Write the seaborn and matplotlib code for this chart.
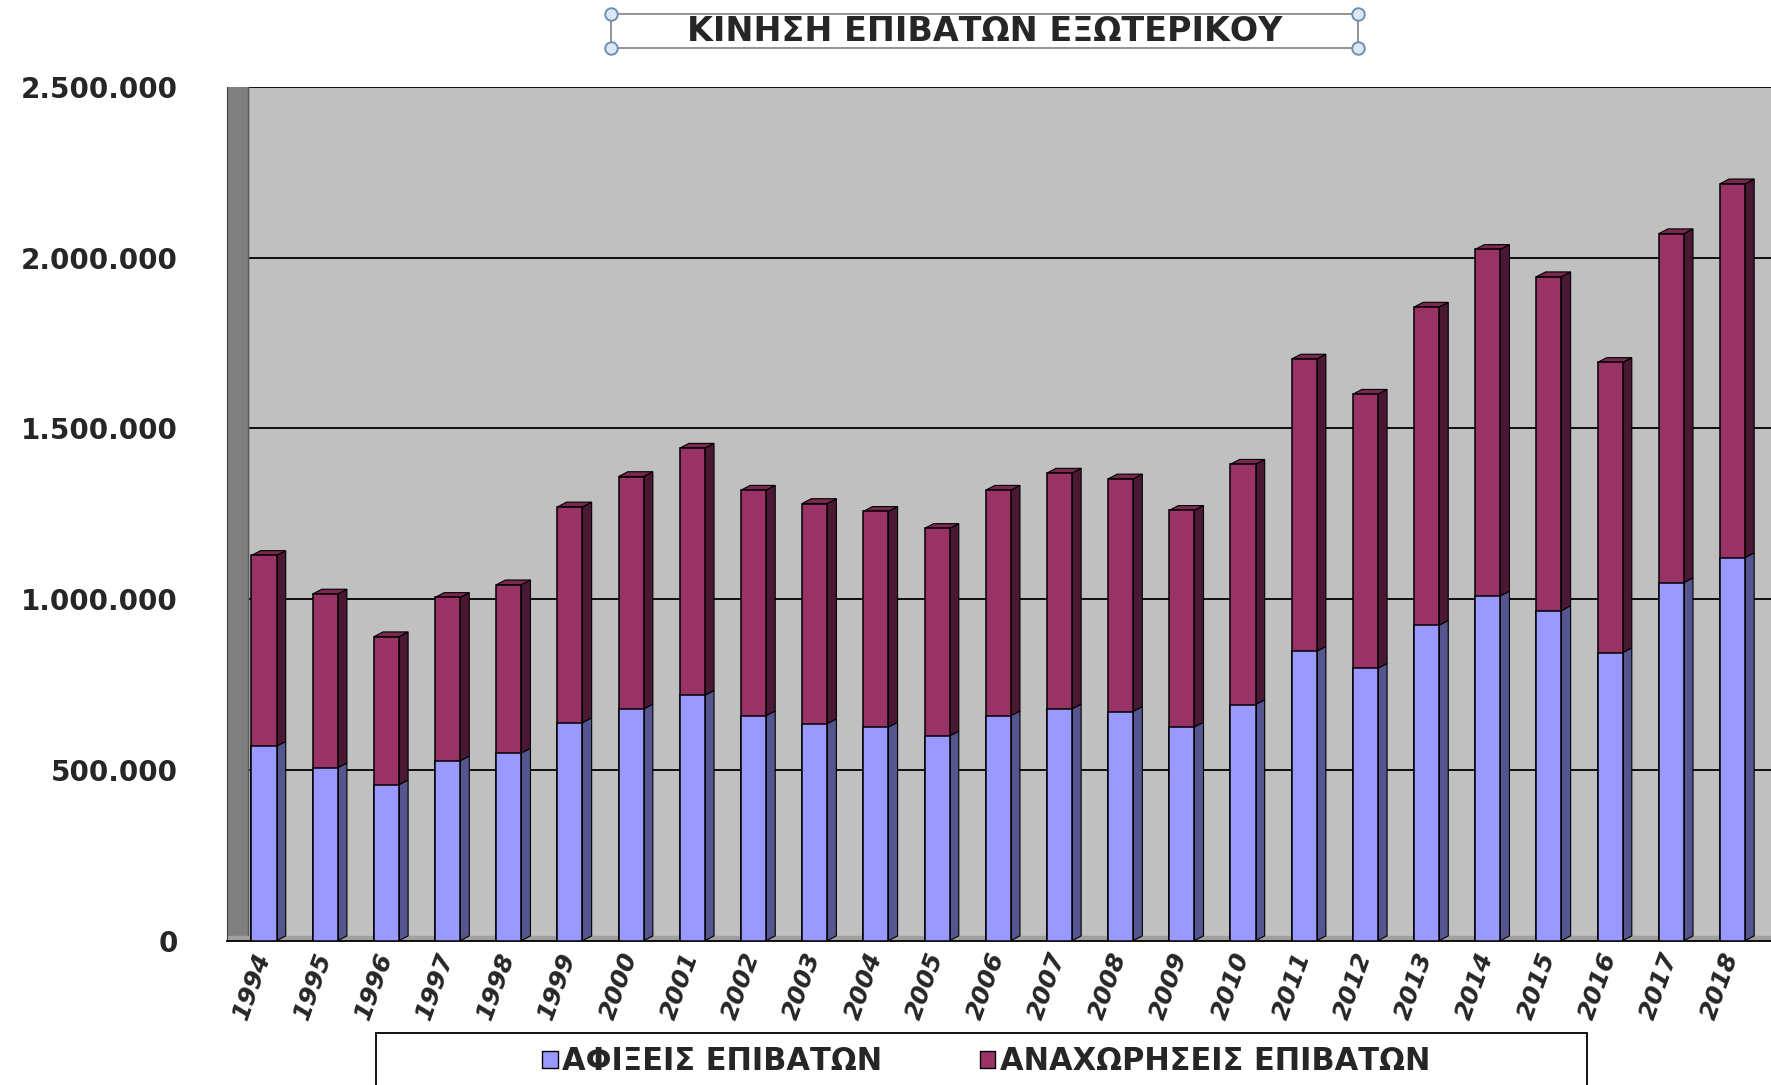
import numpy as np
import pandas as pd
import seaborn as sns
import matplotlib.pyplot as plt
from matplotlib.lines import Line2D
from matplotlib.patches import Patch, Rectangle
from matplotlib.ticker import FuncFormatter, FixedLocator

# passenger data
years = [str(y) for y in range(1994, 2019)]
arrivals = [569000, 506000, 456000, 526000, 549000, 638000, 678000, 718000, 658000,
            635000, 625000, 599000, 658000, 678000, 671000, 625000, 691000, 847000,
            797000, 923000, 1009000, 966000, 843000, 1048000, 1121000]
departures = [559000, 509000, 434000, 479000, 493000, 632000, 681000, 724000, 661000,
              645000, 632000, 608000, 661000, 691000, 681000, 635000, 704000, 856000,
              803000, 932000, 1015000, 978000, 850000, 1022000, 1095000]

title = 'ΚΙΝΗΣΗ ΕΠΙΒΑΤΩΝ ΕΞΩΤΕΡΙΚΟΥ'
labels = ['ΑΦΙΞΕΙΣ ΕΠΙΒΑΤΩΝ', 'ΑΝΑΧΩΡΗΣΕΙΣ ΕΠΙΒΑΤΩΝ']

df = pd.DataFrame({'year': years, 'arr': arrivals, 'dep': departures})
df['total'] = df['arr'] + df['dep']

blue, blue_side = '#9999ff', '#55558f'
purple, purple_side, purple_top = '#993366', '#4a1832', '#7a2850'

sns.set_style('white')
plt.rcParams['font.family'] = ['DejaVu Sans']

fig = plt.figure(figsize=(17.71, 10.85), dpi=100)
ax = fig.add_axes([0.128, 0.133, 0.872, 0.787])
ax.set_facecolor('#c0c0c0')

w, d, dz = 0.41, 0.15, 14000

# stacked bars: totals underneath, arrivals on top of them
sns.barplot(data=df, x='year', y='total', color=purple, width=w, saturation=1,
            edgecolor='black', linewidth=1.1, ax=ax, zorder=3)
sns.barplot(data=df, x='year', y='arr', color=blue, width=w, saturation=1,
            edgecolor='black', linewidth=1.1, ax=ax, zorder=4)

# fake 3d side and top faces
for i, (a, t) in enumerate(zip(df['arr'], df['total'])):
    xr = i + w / 2
    ax.fill([xr, xr + d, xr + d, xr], [a, a + dz, t + dz, t],
            color=purple_side, ec='black', lw=0.8, zorder=2)
    ax.fill([xr, xr + d, xr + d, xr], [0, dz, a + dz, a],
            color=blue_side, ec='black', lw=0.8, zorder=2)
    ax.fill([i - w / 2, i - w / 2 + d, xr + d, xr], [t, t + dz, t + dz, t],
            color=purple_top, ec='black', lw=0.8, zorder=2)

ax.set_xlim(-0.61, 24.63)
ax.set_ylim(0, 2500000)

# side wall and floor
ax.axvspan(-0.61, -0.26, color='#808080', zorder=1)
ax.axvline(-0.26, color='#5a5a5a', lw=1, zorder=1)
ax.axhspan(0, dz, color='#a0a0a0', zorder=1)

ax.yaxis.set_major_locator(FixedLocator(np.arange(0, 2500001, 500000)))
ax.yaxis.set_major_formatter(FuncFormatter(lambda v, p: f'{v:,.0f}'.replace(',', '.')))
ax.grid(axis='y', color='black', lw=1.3, zorder=0)
ax.set_axisbelow(True)

for s in ['top', 'right']:
    ax.spines[s].set_visible(False)
ax.spines['left'].set_color('#404040')
ax.spines['bottom'].set_color('black')
ax.spines['bottom'].set_linewidth(1.3)

ax.tick_params(axis='y', length=7, width=1.2, color='black', labelsize=20, pad=28)
for lb in ax.get_yticklabels():
    lb.set_fontweight('bold')

ax.set_xticks(np.arange(len(years)) + 0.5, minor=True)
ax.tick_params(axis='x', which='minor', length=9, width=1.2, color='black')
ax.tick_params(axis='x', which='major', length=0, pad=6)
ax.set_xticks(np.arange(len(years)) - 0.2)
ax.set_xticklabels(years, rotation=70, ha='center', va='top',
                   fontsize=18, fontweight='bold', style='italic')
ax.set_xlabel('')
ax.set_ylabel('')

# title with its selection box and handles
x0, x1, y0, y1 = 0.345, 0.767, 0.956, 0.9875
fig.add_artist(Rectangle((x0, y0), x1 - x0, y1 - y0, transform=fig.transFigure,
                         fc='white', ec='#8a8a8a', lw=1.3))
fig.text((x0 + x1) / 2, (y0 + y1) / 2 - 0.001, title, ha='center', va='center',
         fontsize=24, fontweight='bold')
for cx in (x0, x1):
    for cy in (y0, y1):
        fig.add_artist(Line2D([cx], [cy], marker='o', ms=9, mfc='#dbe9f5',
                              mec='#6b8fb5', mew=1.4, transform=fig.transFigure))

# legend box runs off the bottom edge, as in the original
fig.add_artist(Rectangle((0.2124, -0.05), 0.6836, 0.0979, transform=fig.transFigure,
                         fc='white', ec='black', lw=1.3))
handles = [Patch(fc=blue, ec='black'), Patch(fc=purple, ec='black')]
leg = fig.legend(handles, labels, loc='center', bbox_to_anchor=(0.557, 0.0215),
                 ncol=2, frameon=False, fontsize=22, handlelength=0.5,
                 handleheight=0.5, handletextpad=0.15, columnspacing=3.2)
for t in leg.get_texts():
    t.set_fontweight('bold')

fig.savefig('out.png', dpi=100)
